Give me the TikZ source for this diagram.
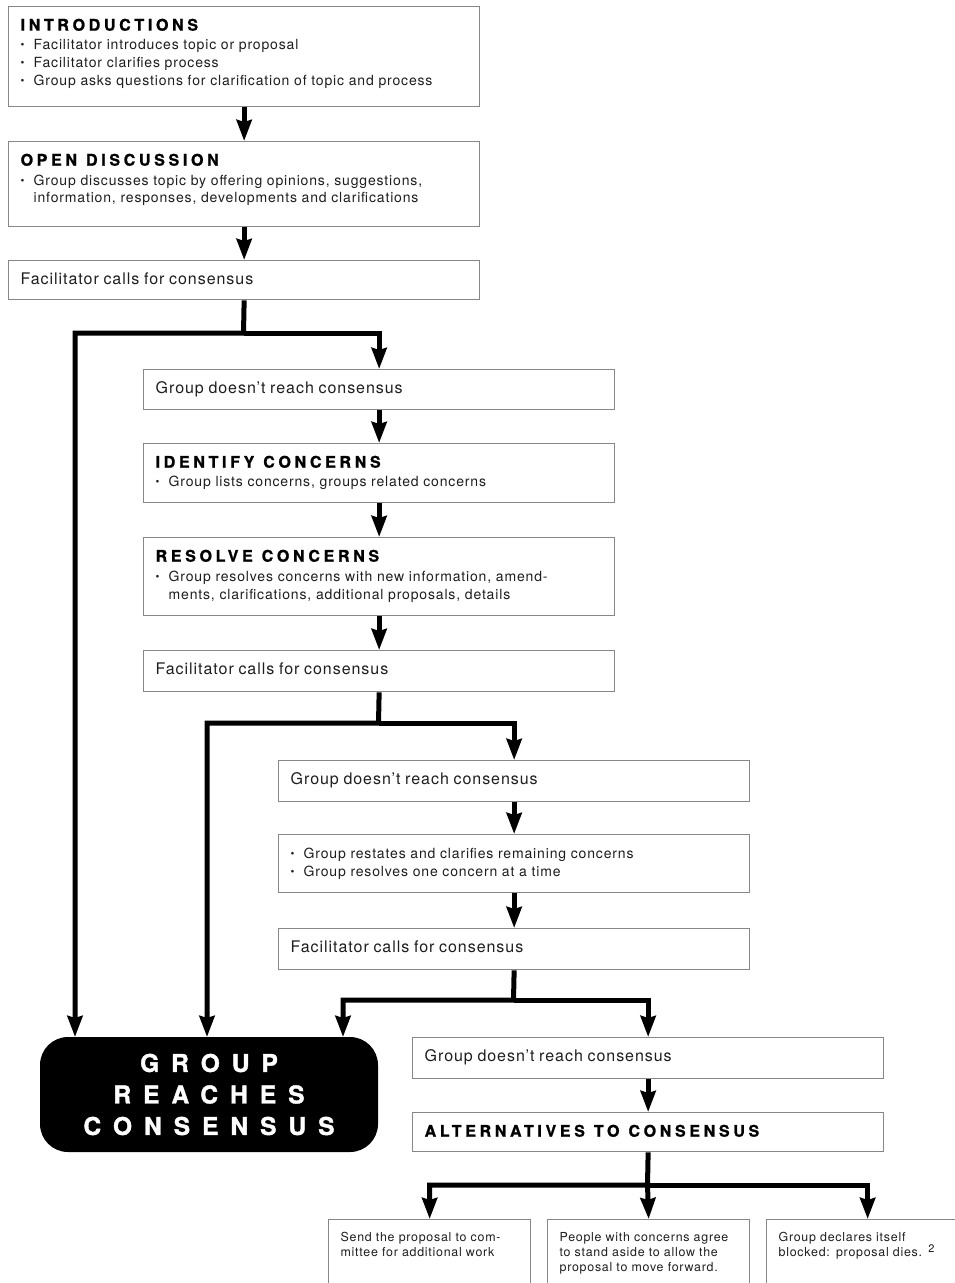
\documentclass[tikz,border=0pt]{standalone}
\usepackage{fontspec}
\setmainfont{TeX Gyre Heros}
\newfontfamily\bodyf[LetterSpace=6]{TeX Gyre Heros}
\newfontfamily\headf[LetterSpace=23, BoldFeatures={FakeBold=1.2}]{TeX Gyre Heros}
\newfontfamily\bigf[LetterSpace=49, BoldFeatures={FakeBold=1.5}]{TeX Gyre Heros}
\usetikzlibrary{arrows.meta}
\definecolor{boxgray}{RGB}{135,135,135}
\definecolor{ink}{RGB}{30,30,30}
\newcommand{\hd}[1]{{\headf\bfseries\fontsize{16}{18}\selectfont\color{black}#1}}
\newcommand{\hs}{\hspace{9pt}}
\newcommand{\bul}{\makebox[13pt][l]{\raisebox{1pt}{\fontsize{11}{11}\selectfont •}}}
\newcommand{\ind}{\hspace*{13pt}}
\newcommand{\bigtxt}[1]{{\fontsize{16}{18}\selectfont #1}}
\begin{document}
\begin{tikzpicture}[x=1pt,y=-1pt,
  fbox/.style={draw=boxgray, line width=1.3pt, anchor=north west, minimum width=471pt,
    inner xsep=12pt, inner ysep=0pt, text width=447pt, align=left, text height=24pt,
    text depth={#1pt-24pt}, font=\bodyf\fontsize{14}{18}\selectfont, text=ink},
  sbox/.style={draw=boxgray, line width=1.3pt, anchor=north west, minimum width=202pt,
    inner xsep=12pt, inner ysep=0pt, text width=178pt, align=left, text height=22pt,
    text depth=80pt, font=\bodyf\fontsize{12.4}{14.8}\selectfont, text=ink},
  conn/.style={line width=5pt, -{Stealth[length=21pt,width=15pt,inset=2pt]}}]
\useasboundingbox (0,0) rectangle (955,1283);
\clip (0,0) rectangle (955,1283);
\fill[white] (0,0) rectangle (955,1283);

\node[fbox=100] (b1) at (8,6) {\hd{INTRODUCTIONS}\\[1pt]
  \bul Facilitator introduces topic or proposal\\
  \bul Facilitator clarifies process\\
  \bul Group asks questions for clarification of topic and process};
\node[fbox=85] (b2) at (8,141) {\hd{OPEN\hs DISCUSSION}\\[2pt]
  \bul Group discusses topic by offering opinions, suggestions,\\[-1pt]
  \ind information, responses, developments and clarifications};
\node[fbox=39] (b3) at (8,260) {\bigtxt{Facilitator calls for consensus}};

\node[fbox=40] (b4) at (143,369) {\bigtxt{Group doesn’t reach consensus}};
\node[fbox=59] (b5) at (143,443) {\hd{IDENTIFY\hs CONCERNS}\\[1pt]
  \bul Group lists concerns, groups related concerns};
\node[fbox=78] (b6) at (143,537) {\hd{RESOLVE\hs CONCERNS}\\[2pt]
  \bul Group resolves concerns with new information, amend-\\
  \ind ments, clarifications, additional proposals, details};
\node[fbox=41] (b7) at (143,650) {\bigtxt{Facilitator calls for consensus}};

\node[fbox=41] (b8) at (278,760) {\bigtxt{Group doesn’t reach consensus}};
\node[fbox=58] (b9) at (278,834) {\bul Group restates and clarifies remaining concerns\\
  \bul Group resolves one concern at a time};
\node[fbox=41] (b10) at (278,928) {\bigtxt{Facilitator calls for consensus}};

\node[fbox=41] (b11) at (412,1037) {\bigtxt{Group doesn’t reach consensus}};
\node[fbox=39] (b12) at (412,1112) {\hd{ALTERNATIVES\hs TO\hs CONSENSUS}};

\node[sbox] (b13) at (328,1219) {Send the proposal to com-\\mittee for additional work};
\node[sbox] (b14) at (547,1219) {People with concerns agree\\to stand aside to allow the\\proposal to move forward.};
\node[sbox] (b15) at (766,1219) {Group declares itself\\blocked: proposal dies. \raisebox{4pt}{\fontsize{11}{11}\selectfont 2}};

\node[fill=black, rectangle, rounded corners=28pt, minimum width=338pt, minimum height=115pt,
  inner sep=0pt, align=center, text=white,
  font=\bigf\bfseries\fontsize{24.5}{31.5}\selectfont] (gr) at (209,1094.5)
  {GROUP\\REACHES\\CONSENSUS};

\coordinate (s1) at (243.5,333);
\coordinate (s2) at (378.5,723);
\coordinate (s3) at (513.5,1000);
\coordinate (s4) at (647.5,1185);
\coordinate (g1) at (75,1037);
\coordinate (g2) at (207,1037);
\coordinate (g3) at (343,1037);

\draw[conn] (b1.south) -- (b2.north);
\draw[conn] (b2.south) -- (b3.north);
\draw[conn] (b3.south) -- (s1) -| (g1);
\draw[conn] (s1) -| (b4.north);
\draw[conn] (b4.south) -- (b5.north);
\draw[conn] (b5.south) -- (b6.north);
\draw[conn] (b6.south) -- (b7.north);
\draw[conn] (b7.south) -- (s2) -| (g2);
\draw[conn] (s2) -| (b8.north);
\draw[conn] (b8.south) -- (b9.north);
\draw[conn] (b9.south) -- (b10.north);
\draw[conn] (b10.south) -- (s3) -| (g3);
\draw[conn] (s3) -| (b11.north);
\draw[conn] (b11.south) -- (b12.north);
\draw[conn] (b12.south) -- (s4) -| (b13.north);
\draw[conn] (s4) -- (b14.north);
\draw[conn] (s4) -| (b15.north);
\end{tikzpicture}
\end{document}
